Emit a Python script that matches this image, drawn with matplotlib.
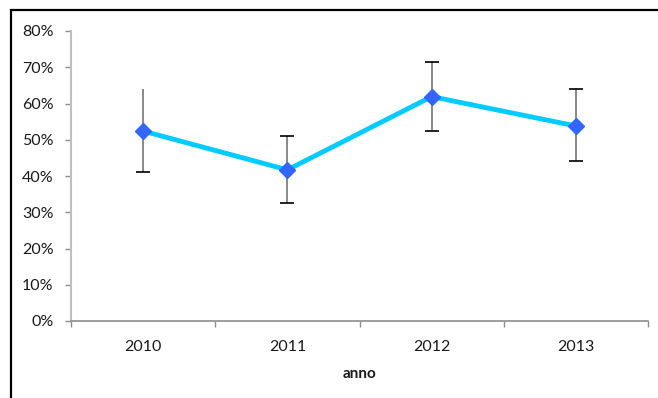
import matplotlib
matplotlib.use("Agg")
import matplotlib.pyplot as plt
from matplotlib.patches import Rectangle
from matplotlib.ticker import FixedLocator, PercentFormatter

# Yearly share with error margins
years = ["2010", "2011", "2012", "2013"]
share = [52.4, 41.7, 61.9, 53.8]
err_up = [11.5, 9.2, 9.5, 10.1]
err_down = [11.4, 9.2, 9.5, 9.7]

plt.rcParams["font.family"] = ["Lato", "DejaVu Sans"]

fig = plt.figure(figsize=(6.58, 3.98), dpi=100)
fig.patch.set_facecolor("white")

# outer chart frame (only top and left edges fall inside the image)
fig.patches.append(Rectangle((10.5 / 658, -0.1), 1.2, 1 - 10.5 / 398 + 0.1,
                             transform=fig.transFigure, fill=False,
                             edgecolor="black", linewidth=1.6, zorder=0))

ax = fig.add_axes([71 / 658, 1 - 321 / 398, (648 - 71) / 658, (321 - 31) / 398])

x = list(range(len(years)))
eb = ax.errorbar(x, share, yerr=[err_down, err_up], fmt="none",
                 ecolor="#7f7f7f", elinewidth=1.3, capsize=5, capthick=1.2,
                 zorder=2)
# caps in black; the first year's upper cap is left off
for cap in eb[1]:
    cap.set_markeredgecolor("black")
    cap.set_markerfacecolor("black")
eb[1][1].set_markevery(list(range(1, len(years))))
ax.plot(x, share, color="#00CCFF", linewidth=3.5, solid_capstyle="round",
        zorder=3)
ax.plot(x, share, linestyle="none", marker="D", markersize=8.5,
        color="#3366FF", markeredgecolor="#3366FF", zorder=4)

ax.set_xlim(-0.5, len(years) - 0.5)
ax.set_ylim(0, 80)

ax.yaxis.set_major_locator(FixedLocator(range(0, 81, 10)))
ax.yaxis.set_major_formatter(PercentFormatter(decimals=0))

ax.xaxis.set_major_locator(FixedLocator([i - 0.5 for i in range(len(years) + 1)]))
ax.xaxis.set_major_formatter(plt.NullFormatter())
ax.xaxis.set_minor_locator(FixedLocator(x))
ax.set_xticklabels(years, minor=True)

ax.tick_params(axis="y", which="major", length=4, width=1, color="#8c8c8c",
               labelsize=11.5, pad=8.5, labelcolor="#1a1a1a")
ax.tick_params(axis="x", which="major", length=4, width=1, color="#8c8c8c")
ax.tick_params(axis="x", which="minor", length=0, labelsize=11.5, pad=14,
               labelcolor="#1a1a1a")

for side in ("top", "right"):
    ax.spines[side].set_visible(False)
ax.spines["left"].set_color("#bfbfbf")
ax.spines["left"].set_linewidth(1.5)
ax.spines["bottom"].set_color("#8c8c8c")
ax.spines["bottom"].set_linewidth(1.2)

ax.set_xlabel("anno", fontsize=11, fontweight="bold", labelpad=9,
              color="#1a1a1a")

fig.savefig("out.png", dpi=100)
